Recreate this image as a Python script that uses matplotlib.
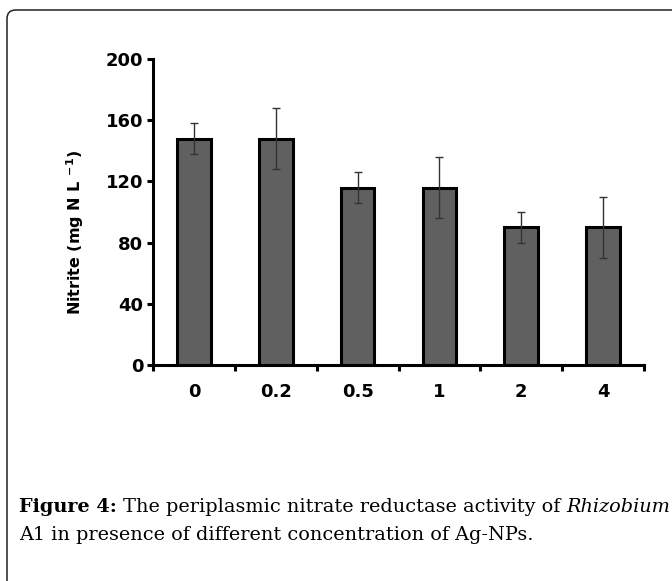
import matplotlib
matplotlib.use("Agg")

import matplotlib.pyplot as plt
import numpy as np
from matplotlib.patches import FancyBboxPatch

# datos
concentraciones = ["0", "0.2", "0.5", "1", "2", "4"]
nitrito = [148, 148, 116, 116, 90, 90]
error = [10, 20, 10, 20, 10, 20]

W, H = 672, 581
fig = plt.figure(figsize=(W / 100, H / 100), dpi=100)

# marco redondeado que sale por la derecha y por abajo
marco = FancyBboxPatch(
    (7 / W, -0.1), 1.2, (1 - 10 / H) + 0.1,
    boxstyle="round,pad=0,rounding_size=0.013",
    transform=fig.transFigure,
    facecolor="none", edgecolor="#222222", linewidth=1.1,
    mutation_aspect=W / H,
)
fig.patches.append(marco)

ax = fig.add_axes([153 / W, 1 - 365 / H, 491 / W, 306 / H])

x = np.arange(len(concentraciones))
gris = "#606060"

ax.bar(x, nitrito, width=0.41, color=gris, edgecolor="black", linewidth=2.2, zorder=2)
ax.errorbar(x, nitrito, yerr=error, fmt="none", ecolor="#333333",
            elinewidth=1, capsize=3, capthick=1, zorder=3)

ax.set_xlim(-0.5, len(x) - 0.5)
ax.set_ylim(0, 200)
ax.set_yticks([0, 40, 80, 120, 160, 200])

ax.set_xticks(x)
ax.set_xticklabels(concentraciones)
ax.set_xticks(np.arange(-0.5, len(x), 1), minor=True)

for s in ["top", "right"]:
    ax.spines[s].set_visible(False)
for s in ["left", "bottom"]:
    ax.spines[s].set_linewidth(2.2)

ax.tick_params(axis="x", which="major", length=0, pad=13)
ax.tick_params(axis="x", which="minor", direction="out", length=4, width=2.2)
ax.tick_params(axis="y", direction="out", length=4, width=2.2, pad=3)

for lab in ax.get_xticklabels() + ax.get_yticklabels():
    lab.set_fontfamily("DejaVu Sans")
    lab.set_fontweight("bold")
    lab.set_fontsize(13)

fig.text(75 / W, 1 - 232 / H, r"Nitrite (mg N L $^{\mathbf{-1}}$)",
         rotation=90, ha="center", va="center",
         fontsize=11.5, fontweight="bold", family="DejaVu Sans")

# pie de figura, por trozos para mezclar negrita y cursiva
renderer = fig.canvas.get_renderer()
y1 = 1 - 512 / H
xpos = 19
trozos = [("Figure 4:", "bold", "normal"),
          (" The periplasmic nitrate reductase activity of ", "normal", "normal"),
          ("Rhizobium", "normal", "italic")]
for texto, peso, estilo in trozos:
    t = fig.text(xpos / W, y1, texto, fontsize=13.9, fontweight=peso, style=estilo,
                 family="DejaVu Serif", va="baseline")
    xpos += t.get_window_extent(renderer).width

fig.text(19 / W, 1 - 540 / H,
         "A1 in presence of different concentration of Ag-NPs.",
         fontsize=13.9, family="DejaVu Serif", va="baseline")

plt.savefig("out.png", dpi=100)
plt.close()
